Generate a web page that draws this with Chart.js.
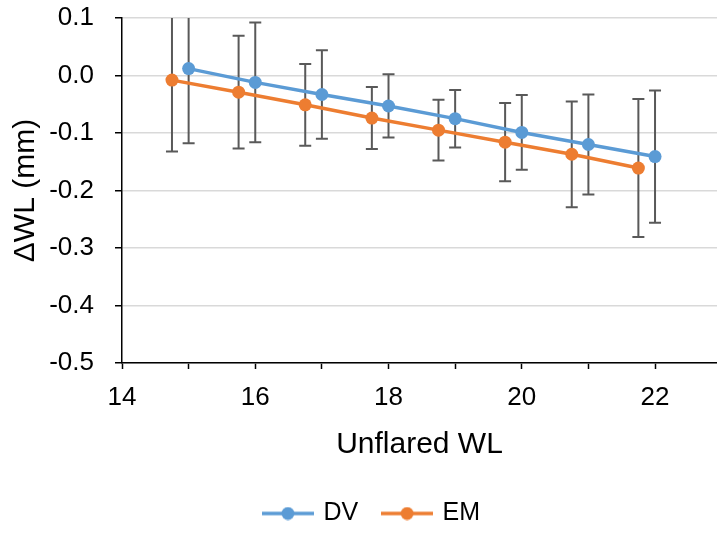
<!DOCTYPE html>
<html>
<head>
<meta charset="utf-8">
<script src="https://cdn.jsdelivr.net/npm/chart.js@4/dist/chart.umd.min.js"></script>
<style>
  html, body { margin: 0; padding: 0; background: #fff; overflow: hidden; }
  #wrap { width: 717px; height: 533px; }
</style>
</head>
<body>
<div id="wrap"><canvas id="chart"></canvas></div>
<script>
var dvX = [15, 16, 17, 18, 19, 20, 21, 22];
var dvY = [0.012, -0.012, -0.033, -0.053, -0.075, -0.099, -0.120, -0.141];
var dvErr = [0.130, 0.104, 0.077, 0.055, 0.050, 0.065, 0.087, 0.115];

var emX = [14.75, 15.75, 16.75, 17.75, 18.75, 19.75, 20.75, 21.75];
var emY = [-0.008, -0.029, -0.051, -0.074, -0.095, -0.116, -0.137, -0.161];
var emErr = [0.124, 0.098, 0.071, 0.054, 0.053, 0.068, 0.092, 0.120];

var xTicks = [14, 15, 16, 17, 18, 19, 20, 21, 22];
var xLabels = ["14", "", "16", "", "18", "", "20", "", "22"];

var blue = "#5B9BD5";
var orange = "#ED7D31";
var font = "'Liberation Sans', Arial, sans-serif";

function toPoints(xs, ys) {
  return xs.map(function (x, i) { return { x: x, y: ys[i] }; });
}

// small line + dot picture for the legend entries
function legendIcon(color) {
  var c = document.createElement("canvas");
  c.width = 52;
  c.height = 14;
  var g = c.getContext("2d");
  g.strokeStyle = color;
  g.lineWidth = 3.5;
  g.beginPath();
  g.moveTo(0, 7);
  g.lineTo(52, 7);
  g.stroke();
  g.fillStyle = color;
  g.beginPath();
  g.arc(26, 7, 6.5, 0, Math.PI * 2);
  g.fill();
  return c;
}

var errorBars = {
  id: "errorBars",
  beforeDatasetsDraw: function (chart) {
    var ctx = chart.ctx;
    var area = chart.chartArea;
    var xs = chart.scales.x;
    var ys = chart.scales.y;
    ctx.save();
    ctx.beginPath();
    ctx.rect(area.left, area.top, area.right - area.left, area.bottom - area.top);
    ctx.clip();
    ctx.strokeStyle = "#595959";
    ctx.lineWidth = 2;
    chart.data.datasets.forEach(function (ds) {
      ds.data.forEach(function (p, i) {
        var e = ds.errors[i];
        var px = xs.getPixelForValue(p.x);
        var top = ys.getPixelForValue(p.y + e);
        var bot = ys.getPixelForValue(p.y - e);
        ctx.beginPath();
        ctx.moveTo(px, top);
        ctx.lineTo(px, bot);
        ctx.moveTo(px - 6, top);
        ctx.lineTo(px + 6, top);
        ctx.moveTo(px - 6, bot);
        ctx.lineTo(px + 6, bot);
        ctx.stroke();
      });
    });
    ctx.restore();
  },
};

// nudge the legend a bit right, like the original
var legendShift = {
  id: "legendShift",
  afterLayout: function (chart) {
    chart.legend.left += 14;
    chart.legend.right += 14;
  },
};

var ctx = document.getElementById("chart").getContext("2d");

var myChart = new Chart(ctx, {
  type: "line",
  data: {
    datasets: [
      {
        label: "DV",
        data: toPoints(dvX, dvY),
        errors: dvErr,
        borderColor: blue,
        backgroundColor: blue,
        borderWidth: 3.5,
        pointRadius: 6.5,
        pointBorderWidth: 0,
        pointHoverRadius: 6.5,
        tension: 0,
      },
      {
        label: "EM",
        data: toPoints(emX, emY),
        errors: emErr,
        borderColor: orange,
        backgroundColor: orange,
        borderWidth: 3.5,
        pointRadius: 6.5,
        pointBorderWidth: 0,
        pointHoverRadius: 6.5,
        tension: 0,
      },
    ],
  },
  options: {
    responsive: true,
    maintainAspectRatio: false,
    animation: false,
    layout: { autoPadding: false, padding: { top: 18, right: 0, bottom: -3, left: 0 } },
    plugins: {
      tooltip: { enabled: false },
      legend: {
        position: "bottom",
        labels: {
          usePointStyle: true,
          pointStyleWidth: 46,
          padding: 26,
          color: "#000",
          font: { family: font, size: 25 },
          generateLabels: function (chart) {
            var items = Chart.defaults.plugins.legend.labels.generateLabels(chart);
            items.forEach(function (it, i) {
              it.pointStyle = legendIcon(i === 0 ? blue : orange);
            });
            return items;
          },
        },
      },
    },
    scales: {
      x: {
        type: "linear",
        min: 14,
        max: 22.93,
        afterBuildTicks: function (scale) {
          scale.ticks = xTicks.map(function (v) { return { value: v }; });
        },
        afterFit: function (scale) {
          scale.height = 112;
          scale.paddingLeft = 0;
          scale.paddingRight = 0;
        },
        ticks: {
          autoSkip: false,
          maxRotation: 0,
          padding: 13,
          color: "#000",
          font: { family: font, size: 26 },
          callback: function (v) {
            return xLabels[xTicks.indexOf(v)];
          },
        },
        grid: {
          drawOnChartArea: false,
          drawTicks: true,
          tickLength: 6,
          tickColor: "#000",
          tickWidth: 1.5,
        },
        border: { color: "#000", width: 1.5 },
        title: {
          display: true,
          text: "Unflared WL",
          color: "#000",
          font: { family: font, size: 30 },
          padding: { top: 0, bottom: 12 },
        },
      },
      y: {
        min: -0.5,
        max: 0.1,
        afterFit: function (scale) {
          scale.width = 122;
          scale.paddingTop = 0;
          scale.paddingBottom = 0;
        },
        ticks: {
          stepSize: 0.1,
          padding: 21,
          color: "#000",
          font: { family: font, size: 26 },
          callback: function (v) {
            if (Math.abs(v) < 1e-9) v = 0;
            return Number(v).toFixed(1);
          },
        },
        grid: {
          color: "#d9d9d9",
          lineWidth: 1.5,
          drawTicks: true,
          tickLength: 7,
          tickColor: "#000",
          tickWidth: 1.5,
        },
        border: { color: "#000", width: 1.5 },
        title: {
          display: true,
          text: "\u0394WL (mm)",
          color: "#000",
          font: { family: font, size: 30 },
          padding: { top: 8, bottom: 0 },
        },
      },
    },
  },
  plugins: [errorBars, legendShift],
});
</script>
</body>
</html>
